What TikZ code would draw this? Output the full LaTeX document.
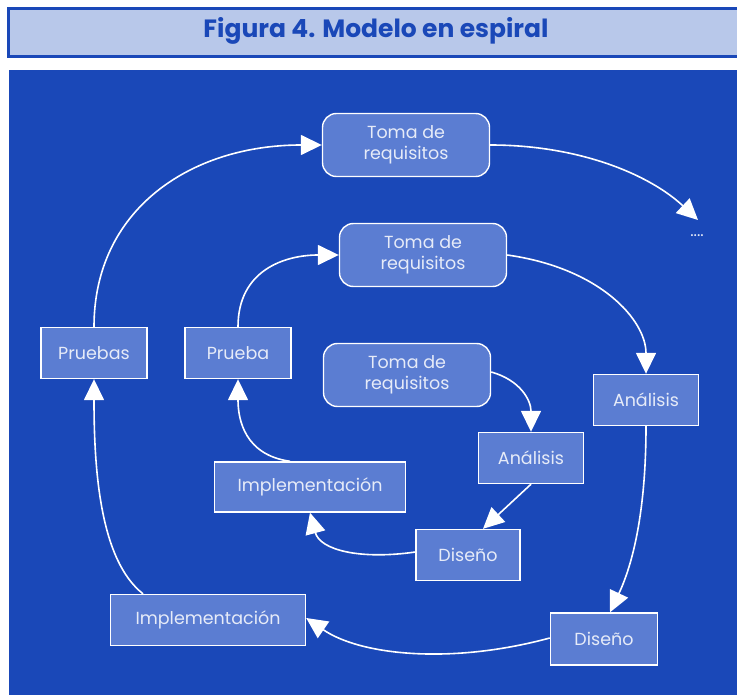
\documentclass[tikz,border=0pt]{standalone}
\usepackage{fontspec}
\setmainfont{Poppins}
\usetikzlibrary{arrows.meta}
\definecolor{panel}{HTML}{1A48B8}
\definecolor{titlefill}{HTML}{B8C8EA}
\definecolor{boxfill}{HTML}{5B7DD2}
\definecolor{txt}{HTML}{E6EBF8}
\tikzset{
  stepbox/.style={draw=white, line width=1.4pt, fill=boxfill, text=txt, font=\fontsize{17.5}{21.5}\selectfont, inner sep=0pt, align=center},
  reqbox/.style={stepbox, rounded corners=14pt},
  conn/.style={draw=white, line width=1.6pt, -{Triangle[length=21pt,width=20pt]}},
  plain/.style={draw=white, line width=1.6pt}
}
\begin{document}
\begin{tikzpicture}[x=1pt,y=-1pt]
\useasboundingbox (0,0) rectangle (737,695);
\fill[white] (0,0) rectangle (737,695);
% title
\draw[draw=panel, fill=titlefill, line width=3pt] (8.5,8.5) rectangle (745,57);
\node[text=panel, font=\bfseries\fontsize{25}{27}\selectfont] (title) at (376,31) {Figura 4. Modelo en espiral};
% panel
\fill[panel] (9,70) rectangle (737,695);
% nodes
\node[reqbox, minimum width=167pt, minimum height=63pt] (t1) at (406,145) {Toma de\\requisitos};
\node[reqbox, minimum width=167pt, minimum height=63pt] (t2) at (423,255) {Toma de\\requisitos};
\node[reqbox, minimum width=167pt, minimum height=63pt] (t3) at (407,375) {Toma de\\requisitos};
\node[stepbox, minimum width=106pt, minimum height=51pt] (pr1) at (94,353) {Pruebas};
\node[stepbox, minimum width=106pt, minimum height=51pt] (pr2) at (238,353) {Prueba};
\node[stepbox, minimum width=105pt, minimum height=51pt] (an2) at (531,458) {Análisis};
\node[stepbox, minimum width=105pt, minimum height=51pt] (an1) at (646,400) {Análisis};
\node[stepbox, minimum width=191pt, minimum height=50pt] (im2) at (310,487) {Implementación};
\node[stepbox, minimum width=104pt, minimum height=51pt] (di2) at (468,555) {Diseño};
\node[stepbox, minimum width=195pt, minimum height=51pt] (im1) at (208,620) {Implementación};
\node[stepbox, minimum width=107pt, minimum height=52pt] (di1) at (604,639) {Diseño};
\node[text=txt, font=\fontsize{16}{16}\selectfont] (dots) at (697,236) {....};
\coordinate (end1) at (698,220);
% connectors outer
\draw[conn] (pr1.north) .. controls (94,210) and (190,145) .. (t1.west);
\draw[conn] (t1.east) .. controls (580,145) and (650,175) .. (end1);
\draw[conn] (pr2.north) .. controls (238,270) and (285,255) .. (t2.west);
\draw[conn] (t2.east) .. controls (600,268) and (646,320) .. (an1.north);
\draw[conn] (an1.south) .. controls (646,520) and (630,570) .. ([xshift=6pt]di1.north);
\draw[conn] (di1.west |- 0,638) .. controls (450,665) and (360,655) .. ([yshift=2pt]im1.east);
\draw[conn] ([xshift=-65pt]im1.north) .. controls (100,560) and (94,470) .. (pr1.south);
% connectors inner
\draw[conn] ([yshift=3pt]t3.east) .. controls (520,380) and (531,400) .. (an2.north);
\draw[conn] (an2.south) -- ([xshift=15pt]di2.north);
\draw[conn] ([yshift=3pt]di2.west) .. controls (360,560) and (320,550) .. (im2.south);
\draw[conn] ([xshift=-20pt]im2.north) .. controls (245,455) and (238,420) .. (pr2.south);
\end{tikzpicture}
\end{document}
